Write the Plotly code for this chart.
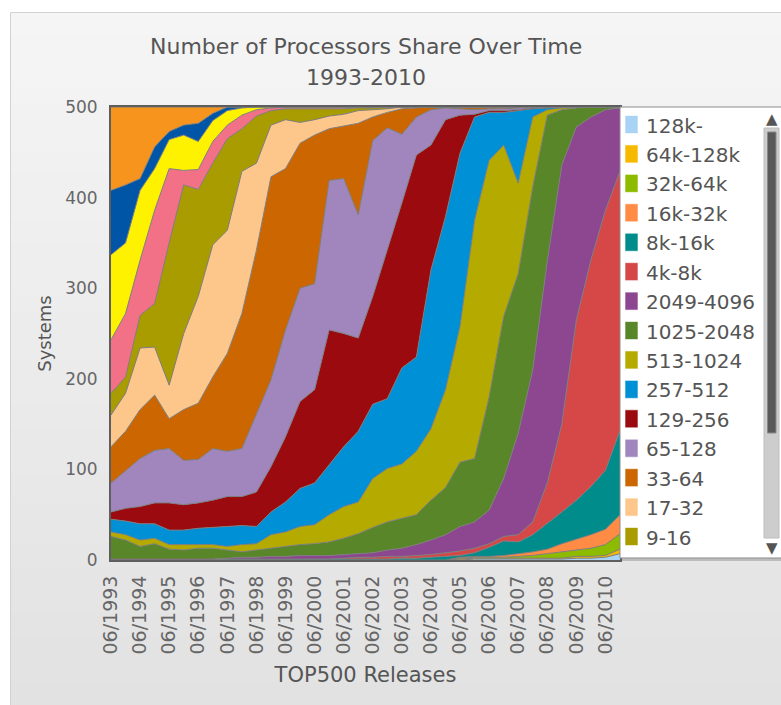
import plotly.graph_objects as go

# ---------------- data ----------------
releases = [
    "06/1993", "11/1993", "06/1994", "11/1994", "06/1995", "11/1995",
    "06/1996", "11/1996", "06/1997", "11/1997", "06/1998", "11/1998",
    "06/1999", "11/1999", "06/2000", "11/2000", "06/2001", "11/2001",
    "06/2002", "11/2002", "06/2003", "11/2003", "06/2004", "11/2004",
    "06/2005", "11/2005", "06/2006", "11/2006", "06/2007", "11/2007",
    "06/2008", "11/2008", "06/2009", "11/2009", "06/2010", "11/2010",
]
tick_labels = [
    "06/1993", "06/1994", "06/1995", "06/1996", "06/1997", "06/1998",
    "06/1999", "06/2000", "06/2001", "06/2002", "06/2003", "06/2004",
    "06/2005", "06/2006", "06/2007", "06/2008", "06/2009", "06/2010",
]
y_ticks = [0, 100, 200, 300, 400, 500]

# number of systems per processor-count class (stack order: bottom first)
p128k_plus = [0, 0, 0, 0, 0, 0, 0, 0, 0, 0, 0, 0, 0, 0, 0, 0, 0, 0,
              0, 0, 0, 0, 0, 0, 0, 1, 1, 1, 1, 1, 1, 1, 2, 2, 3, 7]
p64k_128k = [0, 0, 0, 0, 0, 0, 0, 0, 0, 0, 0, 0, 0, 0, 0, 0, 0, 0,
             0, 0, 0, 0, 0, 0, 1, 1, 1, 1, 1, 1, 1, 1, 2, 2, 2, 5]
p32k_64k = [0, 0, 0, 0, 0, 0, 0, 0, 0, 0, 0, 0, 0, 0, 0, 0, 0, 0,
            0, 0, 0, 0, 0, 0, 1, 1, 1, 1, 2, 3, 5, 7, 7, 9, 12, 17]
p16k_32k = [0, 0, 0, 0, 0, 0, 0, 0, 0, 0, 0, 0, 0, 0, 0, 0, 0, 0,
            0, 0, 0, 0, 0, 0, 1, 1, 1, 2, 3, 4, 5, 9, 12, 15, 17, 21]
p8k_16k = [0, 0, 0, 0, 0, 0, 0, 0, 1, 1, 1, 1, 1, 1, 1, 1, 1, 1,
           1, 1, 2, 2, 3, 4, 2, 4, 10, 16, 13, 19, 28, 35, 43, 53, 65, 93]
p4k_8k = [0, 0, 0, 0, 0, 0, 0, 0, 0, 0, 0, 0, 0, 0, 0, 0, 1, 2,
          2, 3, 2, 3, 3, 4, 5, 5, 4, 5, 8, 14, 45, 97, 199, 250, 287, 286]
p2049_4096 = [1, 1, 1, 1, 1, 1, 1, 1, 1, 2, 2, 3, 3, 4, 4, 4, 4, 4,
              5, 7, 9, 12, 16, 20, 27, 29, 37, 64, 112, 168, 245, 286, 213, 158, 111, 70]
p1025_2048 = [25, 21, 14, 17, 11, 10, 12, 12, 9, 6, 8, 9, 11, 12, 13, 15, 18, 22,
              28, 31, 33, 33, 44, 52, 71, 70, 125, 179, 176, 202, 161, 61, 21, 11, 3, 1]
p513_1024 = [5, 6, 7, 6, 5, 6, 4, 4, 4, 8, 7, 15, 16, 20, 21, 30, 35, 35,
             54, 59, 60, 70, 79, 108, 150, 263, 261, 189, 100, 77, 6, 2, 1, 0, 0, 0]
p257_512 = [14, 15, 18, 16, 16, 16, 18, 19, 22, 21, 19, 25, 33, 42, 46, 55, 66, 78,
            82, 77, 106, 104, 175, 191, 191, 114, 53, 36, 80, 9, 2, 1, 0, 0, 0, 0]
p129_256 = [8, 14, 19, 23, 30, 28, 28, 30, 33, 32, 38, 50, 72, 96, 103, 149, 125, 103,
            119, 164, 182, 223, 138, 107, 42, 3, 2, 2, 1, 1, 1, 0, 0, 0, 0, 0]
p65_128 = [32, 42, 53, 58, 60, 49, 48, 57, 50, 53, 87, 96, 118, 125, 117, 165, 171, 136,
           172, 135, 76, 42, 39, 13, 7, 5, 2, 2, 2, 1, 0, 0, 0, 0, 0, 0]
p33_64 = [40, 43, 54, 61, 33, 56, 62, 79, 108, 149, 180, 224, 178, 160, 164, 57, 58, 101,
          26, 17, 28, 10, 3, 1, 2, 2, 2, 2, 1, 0, 0, 0, 0, 0, 0, 0]
p17_32 = [35, 42, 68, 53, 37, 84, 118, 146, 136, 157, 96, 57, 54, 23, 17, 14, 13, 14,
          8, 4, 2, 1, 0, 0, 0, 1, 0, 0, 0, 0, 0, 0, 0, 0, 0, 0]
p9_16 = [24, 18, 36, 48, 157, 164, 118, 90, 101, 47, 52, 16, 12, 15, 12, 8, 6, 3,
         2, 2, 0, 0, 0, 0, 0, 0, 0, 0, 0, 0, 0, 0, 0, 0, 0, 0]
p5_8 = [59, 70, 61, 103, 82, 16, 22, 24, 15, 15, 7, 3, 2, 2, 2, 2, 2, 1,
        1, 0, 0, 0, 0, 0, 0, 0, 0, 0, 0, 0, 0, 0, 0, 0, 0, 0]
p3_4 = [94, 78, 77, 46, 32, 39, 31, 23, 16, 8, 3, 1, 0, 0, 0, 0, 0, 0,
        0, 0, 0, 0, 0, 0, 0, 0, 0, 0, 0, 0, 0, 0, 0, 0, 0, 0]
p2 = [71, 64, 13, 24, 9, 11, 20, 8, 4, 1, 0, 0, 0, 0, 0, 0, 0, 0,
      0, 0, 0, 0, 0, 0, 0, 0, 0, 0, 0, 0, 0, 0, 0, 0, 0, 0]
p1 = [92, 86, 79, 44, 27, 20, 18, 7, 0, 0, 0, 0, 0, 0, 0, 0, 0, 0,
      0, 0, 0, 0, 0, 0, 0, 0, 0, 0, 0, 0, 0, 0, 0, 0, 0, 0]

series_names = ["128k-", "64k-128k", "32k-64k", "16k-32k", "8k-16k", "4k-8k",
                "2049-4096", "1025-2048", "513-1024", "257-512", "129-256",
                "65-128", "33-64", "17-32", "9-16", "5-8", "3-4", "2", "1"]
series_values = [p128k_plus, p64k_128k, p32k_64k, p16k_32k, p8k_16k, p4k_8k,
                 p2049_4096, p1025_2048, p513_1024, p257_512, p129_256,
                 p65_128, p33_64, p17_32, p9_16, p5_8, p3_4, p2, p1]
series_colors = ["#a9d3f4", "#f6b900", "#8dbb00", "#ff8b45", "#008c8a", "#d64848",
                 "#8d4790", "#598628", "#b5aa00", "#0090d6", "#9a0a0f",
                 "#a186bd", "#cc6600", "#fdc68a", "#a99c00", "#f27187", "#fff200",
                 "#0055a6", "#f7941e"]
n_visible_legend = 15   # the legend box shows its first 15 entries (scrollable)

# ---------------- geometry (page px; body margin removed below) ----------------
W, H = 781, 705
L, R, T, B = 111, 161, 107, 145
PW, PH = W - L - R, H - T - B


def px_x(p):
    """page x pixel -> paper coordinate"""
    return (p - L) / PW


def px_y(p):
    """page y pixel -> paper coordinate"""
    return (H - B - p) / PH


fig = go.Figure()
for name, vals, col in zip(series_names, series_values, series_colors):
    fig.add_trace(go.Scatter(
        x=releases, y=vals, name=name, mode="lines", stackgroup="one",
        line=dict(color="#7d7d7d", width=1), fillcolor=col,
        showlegend=False,
    ))

shapes = []
annotations = []

# panel background with a soft vertical gradient
top_c, bot_c = (245, 245, 245), (226, 226, 226)
n_bands = 30
y_top, y_bot = 12, 705
for k in range(n_bands):
    t = k / (n_bands - 1)
    c = tuple(round(top_c[i] + (bot_c[i] - top_c[i]) * t) for i in range(3))
    ya = y_top + (y_bot - y_top) * k / n_bands
    yb = min(y_top + (y_bot - y_top) * (k + 1) / n_bands + 1, 705)
    shapes.append(dict(type="rect", xref="paper", yref="paper", layer="below",
                       x0=px_x(10), x1=px_x(781), y0=px_y(yb), y1=px_y(ya),
                       fillcolor="rgb(%d,%d,%d)" % c, line=dict(width=0)))
shapes.append(dict(type="rect", xref="paper", yref="paper", layer="below",
                   x0=px_x(10.5), x1=px_x(790), y0=px_y(715), y1=px_y(12.5),
                   fillcolor="rgba(0,0,0,0)", line=dict(color="#d2d2d2", width=1)))

# ---------------- legend box (scrollable look) ----------------
lg_x0, lg_x1, lg_y0, lg_y1 = 620, 790, 107, 558
shapes.append(dict(type="rect", xref="paper", yref="paper", layer="above",
                   x0=px_x(lg_x0 + 2), x1=px_x(lg_x1), y0=px_y(lg_y1 + 3), y1=px_y(lg_y0 + 2),
                   fillcolor="rgba(0,0,0,0.18)", line=dict(width=0)))
shapes.append(dict(type="rect", xref="paper", yref="paper", layer="above",
                   x0=px_x(lg_x0), x1=px_x(lg_x1), y0=px_y(lg_y1), y1=px_y(lg_y0),
                   fillcolor="white", line=dict(color="#8c8c8c", width=1)))
item_y0, item_step = 124.5, 29.43
for k in range(n_visible_legend):
    yc = item_y0 + k * item_step
    shapes.append(dict(type="rect", xref="paper", yref="paper", layer="above",
                       x0=px_x(625), x1=px_x(638), y0=px_y(yc + 9), y1=px_y(yc - 9),
                       fillcolor=series_colors[k], line=dict(color="rgba(255,255,255,0.6)", width=1)))
    annotations.append(dict(xref="paper", yref="paper", x=px_x(644), y=px_y(yc + 1),
                            xanchor="left", yanchor="middle", showarrow=False,
                            text=series_names[k],
                            font=dict(family="DejaVu Sans", size=20, color="#555555")))
# scrollbar
shapes.append(dict(type="rect", xref="paper", yref="paper", layer="above",
                   x0=px_x(764), x1=px_x(779), y0=px_y(538), y1=px_y(128),
                   fillcolor="#cdcdcd", line=dict(color="#bdbdbd", width=1)))
shapes.append(dict(type="rect", xref="paper", yref="paper", layer="above",
                   x0=px_x(767.5), x1=px_x(776), y0=px_y(433), y1=px_y(132),
                   fillcolor="#595959", line=dict(color="#8a8a8a", width=1)))
annotations.append(dict(xref="paper", yref="paper", x=px_x(771.5), y=px_y(119),
                        xanchor="center", yanchor="middle", showarrow=False, text="▲",
                        font=dict(family="DejaVu Sans", size=15, color="#555555")))
annotations.append(dict(xref="paper", yref="paper", x=px_x(771.5), y=px_y(548),
                        xanchor="center", yanchor="middle", showarrow=False, text="▼",
                        font=dict(family="DejaVu Sans", size=15, color="#555555")))

# ---------------- title ----------------
annotations.append(dict(xref="paper", yref="paper", x=0.5, y=px_y(47),
                        xanchor="center", yanchor="middle", showarrow=False,
                        text="Number of Processors Share Over Time",
                        font=dict(family="DejaVu Sans", size=22, color="#555555")))
annotations.append(dict(xref="paper", yref="paper", x=0.5, y=px_y(78),
                        xanchor="center", yanchor="middle", showarrow=False,
                        text="1993-2010",
                        font=dict(family="DejaVu Sans", size=22, color="#555555")))

font_family = "DejaVu Sans"
fig.update_layout(
    width=W, height=H,
    margin=dict(l=L, r=R, t=T, b=B, autoexpand=False),
    paper_bgcolor="white", plot_bgcolor="rgba(0,0,0,0)",
    font=dict(family=font_family, color="#555555"),
    shapes=shapes, annotations=annotations,
    xaxis=dict(type="category", range=[0, 35], tickmode="array",
               tickvals=tick_labels, ticktext=tick_labels, tickangle=-90,
               tickfont=dict(size=19, color="#666666"), ticks="",
               ticklabelstandoff=6, showgrid=False, zeroline=False,
               showline=True, linecolor="#5e5e5e", linewidth=2, mirror=True,
               title=dict(text="TOP500 Releases", standoff=14,
                          font=dict(size=21, color="#555555"))),
    yaxis=dict(range=[0, 500], tickmode="array", tickvals=y_ticks,
               tickfont=dict(size=17, color="#666666"), ticks="",
               ticklabelstandoff=8, showgrid=False, zeroline=False,
               showline=True, linecolor="#5e5e5e", linewidth=2, mirror=True,
               title=dict(text="Systems", standoff=9,
                          font=dict(size=18, color="#555555"))),
    showlegend=False,
)

fig.write_html(
    "out.html",
    config={"displayModeBar": False},
    post_script="document.body.style.margin='0px';document.body.style.overflow='hidden';",
)
